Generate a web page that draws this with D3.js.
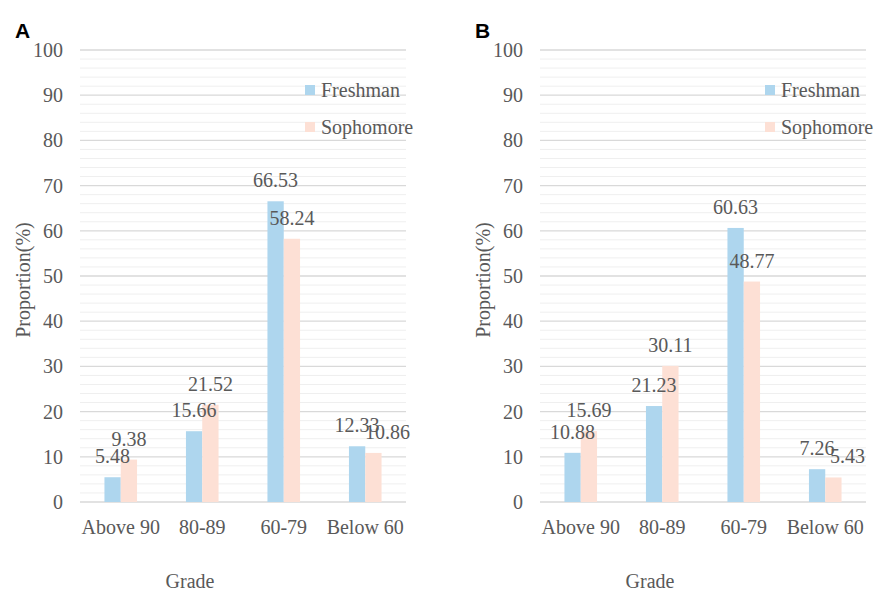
<!DOCTYPE html>
<html>
<head>
<meta charset="utf-8">
<script src="https://cdn.jsdelivr.net/npm/d3@7"></script>
<style>
  body { margin: 0; background: #fff; }
</style>
</head>
<body>
<svg id="chart" width="877" height="592"></svg>
<script>
// data
var grades = ["Above 90", "80-89", "60-79", "Below 60"];
var seriesNames = ["Freshman", "Sophomore"];
var freshmanA = [5.48, 15.66, 66.53, 12.33];
var sophomoreA = [9.38, 21.52, 58.24, 10.86];
var freshmanB = [10.88, 21.23, 60.63, 7.26];
var sophomoreB = [15.69, 30.11, 48.77, 5.43];
var yTicks = [0, 10, 20, 30, 40, 50, 60, 70, 80, 90, 100];

var colors = ["#AED6EE", "#FDE0D5"];
var serif = "'Liberation Serif', 'Times New Roman', serif";
var textGrey = "#595959";
var svg = d3.select("#chart");

var yScale = d3.scaleLinear().domain([0, 100]).range([502, 50]);

function drawPanel(letter, left, fresh, soph) {
    var g = svg.append("g");
    var xScale = d3.scaleBand().domain(grades).range([left, left + 326])
        .paddingInner(0.6).paddingOuter(0.3);
    var xInner = d3.scaleBand().domain(seriesNames).range([0, xScale.bandwidth()]);

    //minor grid every 2, major every 10
    var minor = d3.range(0, 101, 2).filter(function(v){ return v % 10 != 0; });
    g.selectAll(".minor").data(minor).enter().append("line")
        .attr("x1", left).attr("x2", left + 326)
        .attr("y1", function(d){ return yScale(d); })
        .attr("y2", function(d){ return yScale(d); })
        .style("stroke", "#efefef").style("stroke-width", 1);
    g.selectAll(".major").data(yTicks).enter().append("line")
        .attr("x1", left).attr("x2", left + 326)
        .attr("y1", function(d){ return yScale(d); })
        .attr("y2", function(d){ return yScale(d); })
        .style("stroke", "#d9d9d9").style("stroke-width", 1.3);

    //y axis labels
    var yAxis = d3.axisLeft(yScale).tickValues(yTicks).tickSize(0).tickPadding(17);
    var ya = g.append("g").attr("transform", "translate(" + left + ",0)").call(yAxis);
    ya.select(".domain").remove();
    ya.selectAll("text").style("font-size", "20px").style("font-family", serif).style("fill", textGrey);

    //x axis labels
    var xAxis = d3.axisBottom(xScale).tickSize(0).tickPadding(18);
    var xa = g.append("g").attr("transform", "translate(0,502)").call(xAxis);
    xa.select(".domain").remove();
    xa.selectAll("text").style("font-size", "20px").style("font-family", serif).style("fill", textGrey);

    //bars
    var rows = grades.map(function(gr, i){
        return [{grade: gr, s: "Freshman", v: fresh[i]}, {grade: gr, s: "Sophomore", v: soph[i]}];
    });
    var groups = g.selectAll(".grp").data(rows).enter().append("g")
        .attr("transform", function(d){ return "translate(" + xScale(d[0].grade) + ",0)"; });
    groups.selectAll("rect").data(function(d){ return d; }).enter().append("rect")
        .attr("x", function(d){ return xInner(d.s); })
        .attr("width", xInner.bandwidth())
        .attr("y", function(d){ return yScale(d.v); })
        .attr("height", function(d){ return yScale(0) - yScale(d.v); })
        .style("fill", function(d, i){ return colors[i]; });

    //value labels; nudge sophomore label right when it sits on the freshman one
    groups.selectAll(".val").data(function(d){ return d; }).enter().append("text")
        .attr("x", function(d, i, nodes){
            var x = xInner(d.s) + xInner.bandwidth() / 2;
            var pair = d3.select(nodes[i].parentNode).datum();
            if (i == 1 && Math.abs(yScale(pair[0].v) - yScale(pair[1].v)) < 12) x += 14;
            return x;
        })
        .attr("y", function(d){ return yScale(d.v) - 14; })
        .style("text-anchor", "middle")
        .style("font-size", "20px").style("font-family", serif).style("fill", textGrey)
        .text(function(d){ return d.v.toFixed(2); });

    //legend
    var leg = g.selectAll(".leg").data(seriesNames).enter().append("g")
        .attr("transform", function(d, i){ return "translate(" + (left + 225) + "," + (85 + i * 37) + ")"; });
    leg.append("rect").attr("width", 10).attr("height", 10)
        .style("fill", function(d, i){ return colors[i]; });
    leg.append("text").attr("x", 16).attr("y", 11.5)
        .style("font-size", "20px").style("font-family", serif).style("fill", textGrey)
        .text(function(d){ return d; });

    //axis titles
    g.append("text").attr("x", left + 110).attr("y", 588)
        .style("text-anchor", "middle").style("font-size", "20px")
        .style("font-family", serif).style("fill", textGrey).text("Grade");
    g.append("text")
        .attr("transform", "translate(" + (left - 50) + ",280) rotate(-90)")
        .style("text-anchor", "middle").style("font-size", "20px")
        .style("font-family", serif).style("fill", textGrey).text("Proportion(%)");

    //panel letter
    g.append("text").attr("x", left - 65).attr("y", 38)
        .style("font-family", "'Liberation Sans', Arial, sans-serif")
        .style("font-weight", "bold").style("font-size", "21px").style("fill", "#000")
        .text(letter);
}

drawPanel("A", 80, freshmanA, sophomoreA);
drawPanel("B", 540, freshmanB, sophomoreB);
</script>
</body>
</html>
